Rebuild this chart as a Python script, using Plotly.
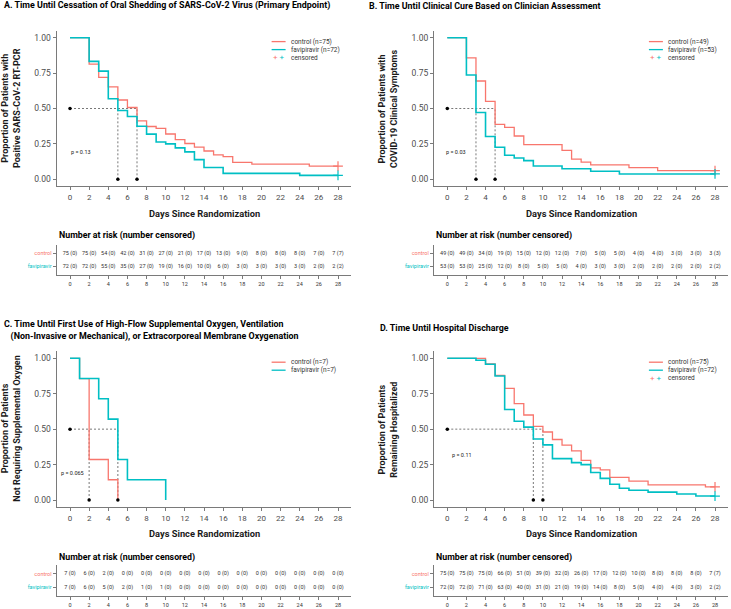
import plotly.graph_objects as go

# colours used by the survminer defaults
RED = "#F8766D"
TEAL = "#00BFC4"
AXIS = "#7a7a7a"
TXT = "#1a1a1a"
FONT = "Liberation Sans Narrow, Roboto, sans-serif"
NUMFONT = "Roboto, sans-serif"

DAYS = [0, 2, 4, 6, 8, 10, 12, 14, 16, 18, 20, 22, 24, 26, 28]
Y_TICKS = [0.0, 0.25, 0.5, 0.75, 1.0]

# ---- A. oral shedding ----
A_ctrl_t = [0, 2, 3, 4, 5, 6, 7, 8, 9, 10, 11, 12, 13, 14, 15, 16, 17, 19, 25, 28]
A_ctrl_s = [1.0, 0.813, 0.72, 0.653, 0.56, 0.507, 0.413, 0.373, 0.36, 0.32, 0.28,
            0.253, 0.227, 0.2, 0.173, 0.16, 0.12, 0.107, 0.093, 0.093]
A_fav_t = [0, 2, 3, 4, 5, 6, 7, 8, 9, 10, 11, 12, 13, 14, 16, 24, 28]
A_fav_s = [1.0, 0.833, 0.764, 0.569, 0.486, 0.444, 0.375, 0.319, 0.264, 0.25,
           0.222, 0.194, 0.139, 0.083, 0.042, 0.028, 0.028]
A_medians = [5, 7]
A_p = ("p = 0.13", 1.2, 0.195)
A_risk_ctrl = [75, 75, 54, 42, 31, 27, 21, 17, 13, 9, 8, 8, 8, 7, 7]
A_cens_ctrl = [0, 0, 0, 0, 0, 0, 0, 0, 0, 0, 0, 0, 0, 0, 7]
A_risk_fav = [72, 72, 55, 35, 27, 19, 16, 10, 6, 3, 3, 3, 3, 2, 2]
A_cens_fav = [0, 0, 0, 0, 0, 0, 0, 0, 0, 0, 0, 0, 0, 0, 2]

# ---- B. clinical cure ----
B_ctrl_t = [0, 2, 3, 4, 5, 6, 7, 8, 12, 13, 14, 15, 19, 22, 28]
B_ctrl_s = [1.0, 0.857, 0.694, 0.551, 0.388, 0.367, 0.306, 0.245, 0.204, 0.143,
            0.122, 0.102, 0.082, 0.061, 0.061]
B_fav_t = [0, 2, 3, 4, 5, 6, 7, 8, 9, 12, 15, 18, 28]
B_fav_s = [1.0, 0.736, 0.472, 0.302, 0.226, 0.17, 0.151, 0.132, 0.094, 0.075,
           0.057, 0.038, 0.038]
B_medians = [3, 5]
B_p = ("p = 0.03", 0.9, 0.195)
B_risk_ctrl = [49, 49, 34, 19, 15, 12, 12, 7, 5, 5, 4, 4, 3, 3, 3]
B_cens_ctrl = [0, 0, 0, 0, 0, 0, 0, 0, 0, 0, 0, 0, 0, 0, 3]
B_risk_fav = [53, 53, 25, 12, 8, 5, 5, 4, 3, 3, 2, 2, 2, 2, 2]
B_cens_fav = [0, 0, 0, 0, 0, 0, 0, 0, 0, 0, 0, 0, 0, 0, 2]

# ---- C. high-flow oxygen ----
C_ctrl_t = [0, 1, 2, 4, 5]
C_ctrl_s = [1.0, 0.857, 0.286, 0.143, 0.0]
C_fav_t = [0, 1, 3, 4, 5, 6, 10]
C_fav_s = [1.0, 0.857, 0.714, 0.571, 0.286, 0.143, 0.0]
C_medians = [2, 5]
C_p = ("p = 0.065", 0.25, 0.193)
C_risk_ctrl = [7, 6, 2, 0, 0, 0, 0, 0, 0, 0, 0, 0, 0, 0, 0]
C_cens_ctrl = [0, 0, 0, 0, 0, 0, 0, 0, 0, 0, 0, 0, 0, 0, 0]
C_risk_fav = [7, 6, 5, 2, 1, 1, 0, 0, 0, 0, 0, 0, 0, 0, 0]
C_cens_fav = [0, 0, 0, 0, 0, 0, 0, 0, 0, 0, 0, 0, 0, 0, 0]

# ---- D. hospital discharge ----
D_ctrl_t = [0, 4, 5, 6, 7, 8, 9, 10, 11, 12, 13, 14, 15, 16, 17, 19, 21, 27, 28]
D_ctrl_s = [1.0, 0.96, 0.88, 0.787, 0.68, 0.6, 0.52, 0.48, 0.427, 0.387, 0.347,
            0.28, 0.227, 0.213, 0.16, 0.133, 0.107, 0.093, 0.093]
D_fav_t = [0, 3, 4, 5, 6, 7, 8, 9, 10, 11, 13, 14, 15, 16, 17, 18, 19, 21, 24, 26, 28]
D_fav_s = [1.0, 0.986, 0.958, 0.875, 0.639, 0.556, 0.514, 0.431, 0.389, 0.292,
           0.264, 0.25, 0.194, 0.153, 0.111, 0.083, 0.069, 0.056, 0.042, 0.028, 0.028]
D_medians = [9, 10]
D_p = ("p = 0.11", 1.55, 0.32)
D_risk_ctrl = [75, 75, 75, 66, 51, 39, 32, 26, 17, 12, 10, 8, 8, 8, 7]
D_cens_ctrl = [0, 0, 0, 0, 0, 0, 0, 0, 0, 0, 0, 0, 0, 0, 7]
D_risk_fav = [72, 72, 71, 63, 40, 31, 21, 19, 14, 8, 5, 4, 4, 3, 2]
D_cens_fav = [0, 0, 0, 0, 0, 0, 0, 0, 0, 0, 0, 0, 0, 0, 2]

W, H = 731, 609


def fx(p):
    return p / W


def fy(p):
    return 1 - p / H


panels = [
    dict(title="A. Time Until Cessation of Oral Shedding of SARS-CoV-2 Virus (Primary Endpoint)",
         ytitle="Proportion of Patients with<br>Positive SARS-CoV-2 RT-PCR",
         ct=A_ctrl_t, cs=A_ctrl_s, ft=A_fav_t, fs=A_fav_s, med=A_medians, p=A_p,
         rc=A_risk_ctrl, cc=A_cens_ctrl, rf=A_risk_fav, cf=A_cens_fav,
         n=("control (n=75)", "favipiravir (n=72)"), censored=True,
         col="L", row="T", tx=2, ty=6),
    dict(title="B. Time Until Clinical Cure Based on Clinician Assessment",
         ytitle="Proportion of Patients with<br>COVID-19 Clinical Symptoms",
         ct=B_ctrl_t, cs=B_ctrl_s, ft=B_fav_t, fs=B_fav_s, med=B_medians, p=B_p,
         rc=B_risk_ctrl, cc=B_cens_ctrl, rf=B_risk_fav, cf=B_cens_fav,
         n=("control (n=49)", "favipiravir (n=53)"), censored=True,
         col="R", row="T", tx=367, ty=6),
    dict(title="C. Time Until First Use of High-Flow Supplemental Oxygen, Ventilation<br>"
               "&nbsp;&nbsp;&nbsp;(Non-Invasive or Mechanical), or Extracorporeal Membrane Oxygenation",
         ytitle="Proportion of Patients<br>Not Requiring Supplemental Oxygen",
         ct=C_ctrl_t, cs=C_ctrl_s, ft=C_fav_t, fs=C_fav_s, med=C_medians, p=C_p,
         rc=C_risk_ctrl, cc=C_cens_ctrl, rf=C_risk_fav, cf=C_cens_fav,
         n=("control (n=7)", "favipiravir (n=7)"), censored=False,
         col="L", row="B", tx=2, ty=330.5),
    dict(title="D. Time Until Hospital Discharge",
         ytitle="Proportion of Patients<br>Remaining Hospitalized",
         ct=D_ctrl_t, cs=D_ctrl_s, ft=D_fav_t, fs=D_fav_s, med=D_medians, p=D_p,
         rc=D_risk_ctrl, cc=D_cens_ctrl, rf=D_risk_fav, cf=D_cens_fav,
         n=("control (n=75)", "favipiravir (n=72)"), censored=True,
         col="R", row="B", tx=378, ty=328),
]

XDOM = {"L": (56.6, 351.4), "R": (433.9, 728.4)}
PLOT_Y = {"T": (30.6, 186.4), "B": (351.2, 507.1)}
TAB_Y = {"T": (245, 275), "B": (565, 596)}
XTITLE_Y = {"T": 213, "B": 533}
TABHEAD_Y = {"T": 236, "B": 557}
YTITLE_X = {"L": 11.5, "R": 388.5}

fig = go.Figure()
layout = dict(width=W, height=H, margin=dict(l=0, r=0, t=0, b=0),
              plot_bgcolor="white", paper_bgcolor="white", showlegend=False,
              font=dict(family=NUMFONT, color=TXT))
shapes = []
annotations = []

for i, pn in enumerate(panels):
    k = i + 1
    kt = i + 5
    xa, ya = ("x" if k == 1 else f"x{k}"), ("y" if k == 1 else f"y{k}")
    xt, yt = f"x{kt}", f"y{kt}"
    x0, x1 = XDOM[pn["col"]]
    py0, py1 = PLOT_Y[pn["row"]]
    ty0, ty1 = TAB_Y[pn["row"]]

    common_axis = dict(showline=True, linecolor=AXIS, linewidth=1, showgrid=False,
                       zeroline=False, ticks="outside", ticklen=3, tickcolor=AXIS,
                       tickwidth=1)
    layout["xaxis" + ("" if k == 1 else str(k))] = dict(
        common_axis, domain=[fx(x0), fx(x1)], range=[-1.4, 29.4], tickvals=DAYS,
        tickfont=dict(size=8, color="#4d4d4d"), anchor=ya)
    layout["yaxis" + ("" if k == 1 else str(k))] = dict(
        common_axis, domain=[fy(py1), fy(py0)], range=[-0.05, 1.05], tickvals=Y_TICKS,
        tickformat=".2f", tickfont=dict(size=8.5, color="#4d4d4d"), anchor=xa)
    layout[f"xaxis{kt}"] = dict(
        common_axis, domain=[fx(x0), fx(x1)], range=[-1.4, 29.4], tickvals=DAYS,
        tickfont=dict(size=5.5, color="#333"), anchor=yt)
    layout[f"yaxis{kt}"] = dict(
        common_axis, domain=[fy(ty1), fy(ty0)], range=[0.35, 2.65], tickvals=[1, 2],
        ticktext=[f"<span style='color:{TEAL}'>favipiravir</span>",
                  f"<span style='color:{RED}'>control</span>"],
        tickfont=dict(size=5.5), anchor=xt)

    # survival curves
    fig.add_trace(go.Scatter(x=pn["ct"], y=pn["cs"], mode="lines", line_shape="hv",
                             line=dict(color=RED, width=1.3), xaxis=xa, yaxis=ya))
    fig.add_trace(go.Scatter(x=pn["ft"], y=pn["fs"], mode="lines", line_shape="hv",
                             line=dict(color=TEAL, width=1.6), xaxis=xa, yaxis=ya))
    if pn["censored"]:
        fig.add_trace(go.Scatter(x=[pn["ct"][-1]], y=[pn["cs"][-1]], mode="markers",
                                 marker=dict(symbol="cross-thin", size=7,
                                             line=dict(color=RED, width=1.2)),
                                 cliponaxis=False, xaxis=xa, yaxis=ya))
        fig.add_trace(go.Scatter(x=[pn["ft"][-1]], y=[pn["fs"][-1]], mode="markers",
                                 marker=dict(symbol="cross-thin", size=7,
                                             line=dict(color=TEAL, width=1.2)),
                                 cliponaxis=False, xaxis=xa, yaxis=ya))

    # median survival guides
    dash = dict(color="#555", width=0.8, dash="2px,2px")
    shapes.append(dict(type="line", xref=xa, yref=ya, x0=0, x1=max(pn["med"]),
                       y0=0.5, y1=0.5, line=dash, layer="below"))
    for m in pn["med"]:
        shapes.append(dict(type="line", xref=xa, yref=ya, x0=m, x1=m, y0=0, y1=0.5,
                           line=dash, layer="below"))
    fig.add_trace(go.Scatter(x=[0] + pn["med"], y=[0.5, 0, 0], mode="markers",
                             marker=dict(color="black", size=3.5), cliponaxis=False,
                             xaxis=xa, yaxis=ya))

    ptxt, px_, py_ = pn["p"]
    annotations.append(dict(x=px_, y=py_, xref=xa, yref=ya, text=ptxt,
                            xanchor="center", yanchor="middle",
                            showarrow=False, font=dict(size=5.5, color=TXT)))

    # legend
    lx0 = x0 + 215
    ly = py0 + 11
    labels = [(RED, pn["n"][0]), (TEAL, pn["n"][1])]
    for j, (c, lab) in enumerate(labels):
        yy = ly + j * 8
        shapes.append(dict(type="line", xref="paper", yref="paper", x0=fx(lx0),
                           x1=fx(lx0 + 14), y0=fy(yy), y1=fy(yy),
                           line=dict(color=c, width=1.3)))
        annotations.append(dict(x=fx(lx0 + 17), y=fy(yy), xref="paper", yref="paper",
                                text=lab, xanchor="left", yanchor="middle",
                                showarrow=False, font=dict(size=6.5, color="#333")))
    if pn["censored"]:
        yy = ly + 16
        annotations.append(dict(x=fx(lx0 + 7), y=fy(yy), xref="paper", yref="paper",
                                text=f"<span style='color:{RED}'>+</span> "
                                     f"<span style='color:{TEAL}'>+</span>",
                                xanchor="center", yanchor="middle", showarrow=False,
                                font=dict(size=8)))
        annotations.append(dict(x=fx(lx0 + 17), y=fy(yy), xref="paper", yref="paper",
                                text="censored", xanchor="left", yanchor="middle",
                                showarrow=False, font=dict(size=6.5, color="#333")))

    # risk table
    fig.add_trace(go.Scatter(
        x=DAYS, y=[2] * len(DAYS), mode="text",
        text=[f"{r} ({c})" for r, c in zip(pn["rc"], pn["cc"])],
        textfont=dict(size=5.5, color="#333"), xaxis=xt, yaxis=yt, cliponaxis=False))
    fig.add_trace(go.Scatter(
        x=DAYS, y=[1] * len(DAYS), mode="text",
        text=[f"{r} ({c})" for r, c in zip(pn["rf"], pn["cf"])],
        textfont=dict(size=5.5, color="#333"), xaxis=xt, yaxis=yt, cliponaxis=False))

    # text
    annotations.append(dict(x=fx(pn["tx"]), y=fy(pn["ty"]), xref="paper", yref="paper",
                            text=pn["title"], xanchor="left", yanchor="middle",
                            align="left", showarrow=False,
                            font=dict(family=FONT, size=8.9, color="black", weight="bold")))
    annotations.append(dict(x=fx((x0 + x1) / 2), y=fy(XTITLE_Y[pn["row"]]),
                            xref="paper", yref="paper", text="Days Since Randomization",
                            showarrow=False, xanchor="center", yanchor="middle",
                            font=dict(family=FONT, size=9.3, color=TXT, weight="bold")))
    annotations.append(dict(x=fx(YTITLE_X[pn["col"]]), y=fy((py0 + py1) / 2),
                            xref="paper", yref="paper", text=pn["ytitle"],
                            textangle=-90, showarrow=False,
                            xanchor="center", yanchor="middle",
                            font=dict(family=FONT, size=9, color=TXT, weight="bold")))
    annotations.append(dict(x=fx(x0), y=fy(TABHEAD_Y[pn["row"]]), xref="paper",
                            yref="paper", text="Number at risk (number censored)",
                            xanchor="left", yanchor="middle", showarrow=False,
                            font=dict(family=FONT, size=8.8, color="black", weight="bold")))

layout["shapes"] = shapes
layout["annotations"] = annotations
fig.update_layout(**layout)
fig.write_html("out.html", config={"displayModeBar": False},
               post_script="document.body.style.margin='0';")
